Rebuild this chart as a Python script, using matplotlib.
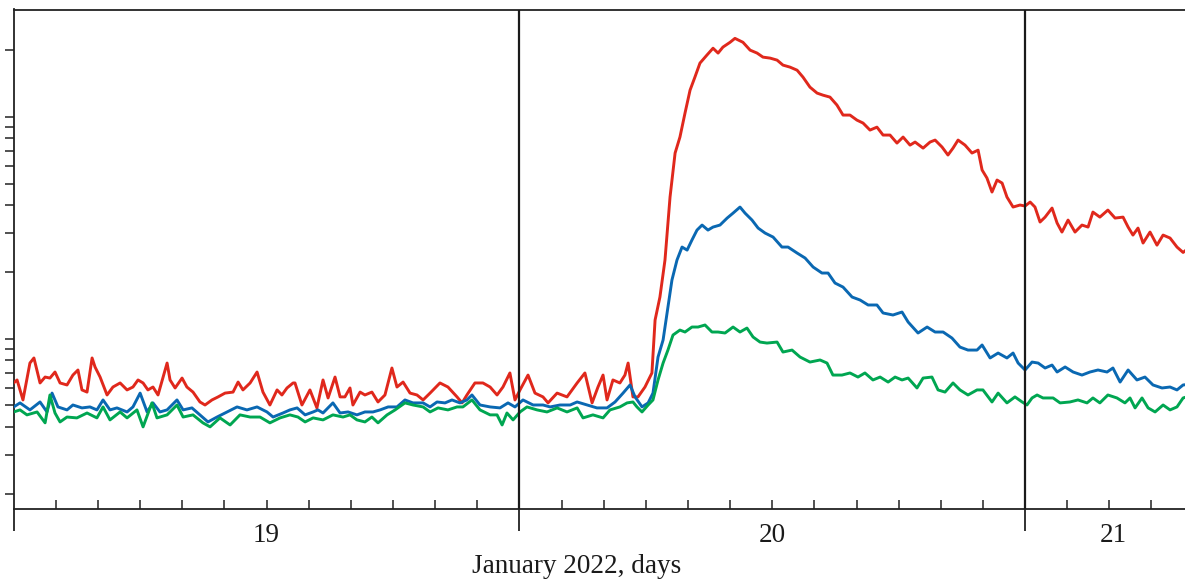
import matplotlib
matplotlib.use("Agg")
import matplotlib.pyplot as plt
import matplotlib.transforms as mtransforms
from matplotlib.ticker import FixedLocator, NullFormatter, NullLocator
import numpy as np

# Time in hours since 19 January 2022, 00:00
red_hours = [0.0, 0.16, 0.44, 0.77, 0.96, 1.25, 1.49, 1.72, 1.96, 2.20, 2.53, 2.81, 3.05, 3.24, 3.48, 3.72, 3.86, 4.10, 4.43, 4.71,
             5.05, 5.38, 5.66, 5.90, 6.14, 6.37, 6.61, 6.85, 7.09, 7.28, 7.42, 7.66, 7.99, 8.22, 8.51, 8.84, 9.08, 9.41, 9.70, 10.03,
             10.41, 10.65, 10.88, 11.22, 11.55, 11.83, 12.16, 12.50, 12.73, 12.97, 13.26, 13.35, 13.68, 14.06, 14.39, 14.68, 14.92, 15.25, 15.49, 15.72,
             15.96, 16.10, 16.44, 16.67, 17.00, 17.29, 17.62, 17.95, 18.19, 18.48, 18.81, 19.14, 19.43, 19.76, 20.23, 20.61, 21.04, 21.28, 21.51, 21.89,
             22.27, 22.61, 22.94, 23.22, 23.55, 23.79, 24.03, 24.41, 24.74, 25.12, 25.36, 25.79, 26.26, 26.74, 27.11, 27.45, 27.73, 27.97, 28.16, 28.44,
             28.77, 29.01, 29.16, 29.39, 29.63, 29.96, 30.29, 30.44, 30.67, 30.91, 31.15, 31.39, 31.62, 31.86, 32.10, 32.33, 32.57, 32.90, 33.19, 33.43,
             33.66, 34.00, 34.23, 34.61, 34.95, 35.28, 35.56, 35.90, 36.23, 36.51, 36.84, 37.18, 37.46, 37.79, 38.13, 38.41, 38.74, 39.07, 39.36, 39.69,
             40.02, 40.31, 40.64, 40.97, 41.26, 41.59, 41.92, 42.21, 42.54, 42.78, 43.16, 43.49, 43.73, 44.06, 44.34, 44.58, 44.82, 45.15, 45.48, 45.77,
             45.96, 46.19, 46.43, 46.67, 46.91, 47.14, 47.43, 47.76, 48.00, 48.24, 48.47, 48.71, 48.95, 49.28, 49.52, 49.75, 50.04, 50.37, 50.70, 50.99,
             51.22, 51.55, 51.93, 52.27, 52.65, 52.89, 53.12, 53.36, 53.60, 53.93, 54.26, 54.55, 54.88, 55.21, 55.50, 55.64]
red_values = [0.631, 0.651, 0.529, 0.776, 0.818, 0.631, 0.671, 0.664, 0.707, 0.631, 0.618, 0.685, 0.722, 0.587, 0.574, 0.818, 0.745, 0.671, 0.557, 0.605,
              0.631, 0.587, 0.605, 0.651, 0.631, 0.587, 0.605, 0.557, 0.671, 0.776, 0.651, 0.599, 0.664, 0.605, 0.574, 0.518, 0.502, 0.529, 0.546, 0.568,
              0.574, 0.637, 0.587, 0.631, 0.707, 0.574, 0.502, 0.587, 0.557, 0.599, 0.631, 0.631, 0.502, 0.587, 0.487, 0.651, 0.540, 0.671, 0.546, 0.546,
              0.599, 0.502, 0.574, 0.557, 0.574, 0.518, 0.557, 0.737, 0.605, 0.637, 0.568, 0.557, 0.529, 0.568, 0.631, 0.605, 0.546, 0.513, 0.557, 0.631,
              0.631, 0.605, 0.557, 0.605, 0.700, 0.529, 0.587, 0.685, 0.568, 0.546, 0.513, 0.568, 0.546, 0.631, 0.700, 0.513, 0.605, 0.685, 0.529, 0.651,
              0.631, 0.685, 0.776, 0.546, 0.546, 0.605, 0.700, 1.213, 1.540, 2.262, 4.350, 6.87, 8.11, 10.40, 13.20, 15.11, 17.48, 19.00, 20.4, 19.40,
              20.64, 21.7, 22.6, 21.7, 20.0, 19.40, 18.60, 18.41, 18.03, 17.12, 16.77, 16.24, 15.11, 13.62, 12.80, 12.53, 12.28, 11.31, 10.19, 10.19,
              9.67, 9.38, 8.72, 8.99, 8.28, 8.28, 7.62, 8.11, 7.46, 7.70, 7.23, 7.70, 7.86, 7.31, 6.73, 7.23, 7.86, 7.46, 6.87, 7.08,
              5.76, 5.30, 4.581, 5.19, 5.030, 4.350, 3.921, 4.004, 3.963, 4.130, 3.921, 3.356, 3.532, 3.880, 3.321, 3.024, 3.425, 3.024, 3.252, 3.185,
              3.722, 3.532, 3.800, 3.497, 3.532, 3.185, 2.931, 3.152, 2.698, 3.024, 2.640, 2.931, 2.842, 2.588, 2.447, 2.508]

blue_hours = [0.0, 0.30, 0.77, 1.25, 1.58, 1.82, 2.10, 2.53, 2.81, 3.24, 3.62, 3.95, 4.24, 4.57, 4.90, 5.38, 5.66, 6.00, 6.33, 6.61,
              6.94, 7.28, 7.75, 8.04, 8.46, 8.84, 9.22, 9.65, 10.13, 10.60, 11.07, 11.55, 12.02, 12.31, 12.78, 13.11, 13.45, 13.83, 14.21, 14.44,
              14.68, 15.15, 15.49, 15.87, 16.29, 16.67, 17.05, 17.39, 17.77, 18.19, 18.57, 18.95, 19.43, 19.76, 20.09, 20.47, 20.80, 21.18, 21.51, 21.75,
              22.13, 22.61, 23.08, 23.46, 23.79, 24.17, 24.65, 25.12, 25.46, 25.93, 26.41, 26.74, 27.21, 27.68, 28.16, 28.54, 28.92, 29.25, 29.49, 29.82,
              30.11, 30.34, 30.58, 30.82, 31.05, 31.24, 31.48, 31.72, 31.96, 32.19, 32.43, 32.67, 32.95, 33.19, 33.52, 33.86, 34.14, 34.47, 34.71, 35.04,
              35.33, 35.66, 36.04, 36.46, 36.75, 37.18, 37.56, 37.94, 38.36, 38.65, 38.98, 39.36, 39.79, 40.17, 40.55, 40.97, 41.26, 41.73, 42.16, 42.45,
              42.92, 43.35, 43.73, 44.11, 44.53, 44.91, 45.29, 45.72, 45.96, 46.34, 46.72, 47.14, 47.43, 47.67, 48.00, 48.33, 48.62, 48.95, 49.28, 49.52,
              49.90, 50.28, 50.70, 51.08, 51.46, 51.89, 52.17, 52.51, 52.89, 53.31, 53.69, 54.07, 54.50, 54.88, 55.21, 55.50, 55.64]
blue_values = [0.492, 0.513, 0.477, 0.518, 0.467, 0.568, 0.492, 0.477, 0.502, 0.487, 0.492, 0.477, 0.529, 0.477, 0.487, 0.467, 0.492, 0.568, 0.467, 0.513,
               0.467, 0.477, 0.529, 0.477, 0.487, 0.453, 0.421, 0.443, 0.467, 0.492, 0.477, 0.492, 0.467, 0.443, 0.462, 0.477, 0.487, 0.453, 0.467, 0.477,
               0.462, 0.513, 0.462, 0.467, 0.453, 0.467, 0.467, 0.477, 0.492, 0.492, 0.529, 0.513, 0.513, 0.492, 0.518, 0.513, 0.529, 0.513, 0.529, 0.557,
               0.502, 0.492, 0.487, 0.513, 0.492, 0.529, 0.502, 0.502, 0.492, 0.502, 0.502, 0.518, 0.502, 0.487, 0.487, 0.518, 0.568, 0.618, 0.546, 0.492,
               0.513, 0.568, 0.826, 0.986, 1.388, 1.837, 2.262, 2.588, 2.508, 2.784, 3.087, 3.252, 3.087, 3.185, 3.252, 3.497, 3.681, 3.921, 3.681, 3.425,
               3.152, 2.993, 2.871, 2.588, 2.588, 2.432, 2.309, 2.103, 1.976, 1.976, 1.781, 1.708, 1.540, 1.493, 1.418, 1.418, 1.305, 1.278, 1.318, 1.188,
               1.060, 1.128, 1.071, 1.071, 1.006, 0.916, 0.888, 0.888, 0.936, 0.818, 0.861, 0.818, 0.861, 0.776, 0.722, 0.784, 0.776, 0.737, 0.760, 0.707,
               0.745, 0.707, 0.685, 0.707, 0.722, 0.707, 0.737, 0.637, 0.722, 0.651, 0.671, 0.618, 0.599, 0.605, 0.587, 0.618, 0.620]

green_hours = [0.0, 0.30, 0.63, 1.11, 1.49, 1.72, 1.96, 2.20, 2.53, 3.00, 3.48, 3.95, 4.24, 4.57, 5.05, 5.38, 5.85, 6.14, 6.56, 6.80,
               7.28, 7.75, 8.04, 8.51, 8.98, 9.32, 9.79, 10.27, 10.74, 11.22, 11.69, 12.16, 12.64, 13.11, 13.49, 13.83, 14.21, 14.68, 15.15, 15.63,
               15.96, 16.29, 16.67, 17.00, 17.29, 17.72, 18.10, 18.57, 18.95, 19.43, 19.76, 20.14, 20.61, 21.04, 21.32, 21.75, 22.13, 22.61, 22.94, 23.18,
               23.41, 23.70, 24.03, 24.36, 24.84, 25.31, 25.79, 26.26, 26.74, 27.02, 27.49, 27.97, 28.30, 28.77, 29.11, 29.39, 29.58, 29.82, 30.11, 30.34,
               30.58, 30.82, 31.05, 31.29, 31.62, 31.86, 32.19, 32.48, 32.81, 33.14, 33.43, 33.76, 34.14, 34.47, 34.80, 35.09, 35.42, 35.75, 36.23, 36.51,
               36.94, 37.32, 37.79, 38.27, 38.60, 38.88, 39.31, 39.69, 40.07, 40.40, 40.78, 41.12, 41.50, 41.83, 42.16, 42.45, 42.87, 43.16, 43.58, 43.87,
               44.20, 44.58, 44.91, 45.29, 45.72, 46.00, 46.43, 46.72, 47.14, 47.52, 47.86, 48.09, 48.33, 48.57, 48.85, 49.33, 49.66, 50.13, 50.51, 50.94,
               51.22, 51.55, 51.93, 52.36, 52.74, 52.98, 53.22, 53.55, 53.84, 54.17, 54.55, 54.88, 55.21, 55.50, 55.64]
green_values = [0.467, 0.477, 0.453, 0.467, 0.417, 0.557, 0.462, 0.421, 0.443, 0.439, 0.462, 0.439, 0.492, 0.430, 0.467, 0.439, 0.477, 0.400, 0.513, 0.439,
                0.453, 0.502, 0.443, 0.453, 0.417, 0.400, 0.439, 0.408, 0.453, 0.443, 0.443, 0.417, 0.439, 0.453, 0.443, 0.421, 0.439, 0.430, 0.453, 0.443,
                0.453, 0.430, 0.421, 0.443, 0.417, 0.453, 0.477, 0.513, 0.502, 0.492, 0.467, 0.487, 0.477, 0.492, 0.492, 0.529, 0.477, 0.453, 0.453, 0.408,
                0.462, 0.430, 0.467, 0.492, 0.477, 0.467, 0.487, 0.467, 0.487, 0.439, 0.453, 0.439, 0.477, 0.492, 0.513, 0.518, 0.492, 0.467, 0.502, 0.529,
                0.651, 0.776, 0.888, 1.038, 1.093, 1.071, 1.128, 1.128, 1.152, 1.071, 1.071, 1.060, 1.128, 1.071, 1.116, 1.017, 0.965, 0.955, 0.965, 0.870,
                0.888, 0.826, 0.784, 0.801, 0.776, 0.685, 0.685, 0.700, 0.671, 0.700, 0.651, 0.671, 0.637, 0.671, 0.651, 0.664, 0.599, 0.664, 0.671, 0.587,
                0.574, 0.631, 0.587, 0.557, 0.587, 0.587, 0.518, 0.568, 0.513, 0.546, 0.518, 0.502, 0.540, 0.557, 0.540, 0.540, 0.513, 0.518, 0.529, 0.513,
                0.540, 0.513, 0.557, 0.540, 0.513, 0.540, 0.487, 0.540, 0.487, 0.467, 0.502, 0.477, 0.492, 0.540, 0.545]

day_labels = ["19", "20", "21"]
day_label_pos = [19.5, 20.5, 21.175]
xlabel_text = "January 2022, days"

RED = "#e0281c"
BLUE = "#0a68b2"
GREEN = "#00a651"

W, H = 1185, 579
fig = plt.figure(figsize=(W / 100, H / 100), dpi=100)
left_px, right_px, top_px, bottom_px = 13.7, 1185.0, 9.5, 508.7
ax = fig.add_axes([left_px / W, 1 - bottom_px / H, (right_px - left_px) / W, (bottom_px - top_px) / H])


def to_day(hours):
    return 19 + np.asarray(hours) / 24.0


lw = 2.1
ax.plot(to_day(red_hours), red_values, color=RED, lw=lw, solid_joinstyle="round", zorder=3)
ax.plot(to_day(blue_hours), blue_values, color=BLUE, lw=lw, solid_joinstyle="round", zorder=4)
ax.plot(to_day(green_hours), green_values, color=GREEN, lw=lw, solid_joinstyle="round", zorder=5)

ax.set_yscale("log")
ax.set_ylim(0.171, 30.5)
ax.set_xlim(19.0, 19 + 55.59 / 24)

ytick_vals = [0.2, 0.3, 0.4, 0.5, 0.6, 0.7, 0.8, 0.9, 1, 2, 3, 4, 5, 6, 7, 8, 9, 10, 20]
ax.yaxis.set_major_locator(FixedLocator(ytick_vals))
ax.yaxis.set_minor_locator(NullLocator())
ax.yaxis.set_major_formatter(NullFormatter())
ax.tick_params(axis="y", which="major", direction="out", length=6.8, width=1.1, color="#222222")

ax.xaxis.set_major_locator(FixedLocator([19, 20, 21]))
ax.xaxis.set_major_formatter(NullFormatter())
minor = [d + k / 12 for d in (19, 20, 21) for k in range(1, 12)]
ax.xaxis.set_minor_locator(FixedLocator(minor))
ax.tick_params(axis="x", which="major", direction="out", length=16, width=1.3, color="#222222")
ax.tick_params(axis="x", which="minor", direction="in", length=6.8, width=1.1, color="#222222")

for sp in ("left", "bottom", "top"):
    ax.spines[sp].set_linewidth(1.3)
    ax.spines[sp].set_color("#222222")
ax.spines["right"].set_visible(False)

for d in (20, 21):
    ax.axvline(d, color="#1a1a1a", lw=1.6, zorder=10)

serif = ["Liberation Serif", "DejaVu Serif"]
trans = mtransforms.blended_transform_factory(ax.transData, ax.transAxes)
for lab, pos in zip(day_labels, day_label_pos):
    ax.text(pos, -0.0661, lab, transform=trans, ha="center", va="baseline",
            fontsize=19.5, family=serif, color="#1a1a1a")
fig.text(577 / W, 1 - 573 / H, xlabel_text, ha="center", va="baseline",
         fontsize=19.5, family=serif, color="#1a1a1a")

fig.savefig("out.png", dpi=100)
